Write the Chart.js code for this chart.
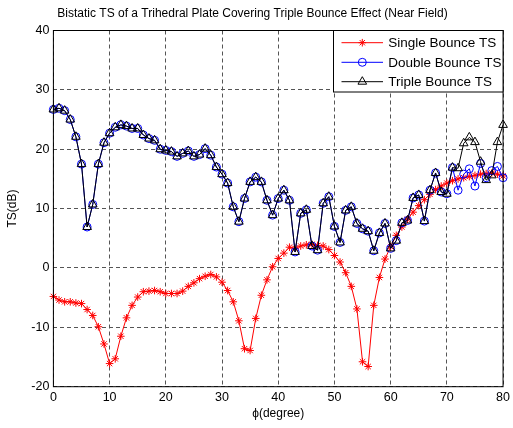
<!DOCTYPE html>
<html><head><meta charset="utf-8">
<script src="https://cdn.jsdelivr.net/npm/chart.js@4.4.1/dist/chart.umd.min.js"></script>
<style>html,body{margin:0;padding:0;background:#fff;}#wrap{width:513px;height:428px;}</style>
</head><body><div id="wrap"><canvas id="c" width="513" height="428"></canvas></div>
<script>
const angles = [0,1,2,3,4,5,6,7,8,9,10,11,12,13,14,15,16,17,18,19,20,21,22,23,24,25,26,27,28,29,30,31,32,33,34,35,36,37,38,39,40,41,42,43,44,45,46,47,48,49,50,51,52,53,54,55,56,57,58,59,60,61,62,63,64,65,66,67,68,69,70,71,72,73,74,75,76,77,78,79,80];
const singleTS = [-4.8,-5.4,-5.7,-5.7,-5.9,-6.0,-7.0,-8.0,-9.9,-12.8,-16.1,-15.3,-11.5,-8.4,-6.3,-4.9,-4.0,-3.9,-3.8,-4.0,-4.3,-4.3,-4.3,-3.9,-3.1,-2.5,-1.8,-1.4,-1.1,-1.5,-2.4,-3.8,-5.7,-8.9,-13.6,-13.9,-8.5,-4.6,-2.0,0.2,1.6,2.5,3.5,3.3,3.7,3.9,4.0,3.8,3.7,3.1,2.1,1.0,-0.8,-3.1,-6.9,-15.8,-16.6,-6.3,-1.6,1.5,3.6,5.5,6.9,8.2,9.4,10.5,11.5,12.4,13.2,13.8,14.3,14.7,15.0,15.2,15.4,15.6,15.8,15.9,16.0,15.8,15.5];
const doubleTS = [26.7,26.9,26.5,25.0,22.1,17.5,6.9,10.7,17.5,21.1,22.7,23.7,24.1,23.9,23.5,23.5,22.4,21.8,21.5,20.0,19.8,19.6,18.8,19.3,19.7,18.8,19.1,20.1,19.0,17.0,15.8,14.3,10.3,7.8,11.7,14.5,15.3,14.5,11.4,8.9,11.7,13.1,11.4,2.7,9.2,9.8,3.7,3.0,10.9,12.0,7.0,4.3,9.7,10.3,7.5,6.6,6.2,2.9,5.9,7.5,3.3,4.6,7.6,8.0,11.8,12.3,7.9,13.1,16.0,12.8,12.5,16.9,13.1,15.8,16.7,13.8,17.6,15.2,16.4,17.1,15.2];
const tripleTS = [26.7,26.9,26.5,25.0,22.1,17.5,6.9,10.7,17.5,21.1,22.7,23.7,24.1,23.9,23.5,23.5,22.4,21.8,21.5,20.0,19.8,19.6,18.8,19.3,19.7,18.8,19.1,20.1,19.0,17.0,15.8,14.3,10.3,7.8,11.7,14.5,15.3,14.5,11.4,8.9,11.7,13.1,11.4,2.7,9.2,9.8,3.7,3.0,10.9,12.0,7.0,4.3,9.7,10.3,7.5,6.6,6.2,2.9,5.9,7.5,3.3,4.6,7.6,8.0,11.8,12.3,7.9,13.1,16.0,12.8,12.5,16.9,16.8,21.0,22.0,21.2,17.9,14.8,15.6,21.2,24.1];
const xTicks = [0,10,20,30,40,50,60,70,80];
const yTicks = [-20,-10,0,10,20,30,40];
const seriesNames = ['Single Bounce TS','Double Bounce TS','Triple Bounce TS'];
const titleText = 'Bistatic TS of a Trihedral Plate Covering Triple Bounce Effect (Near Field)';
const xTitle = 'ϕ(degree)';
const yTitle = 'TS(dB)';

const FONT = '"Liberation Sans", Arial, Helvetica, sans-serif';
const toXY = arr => angles.map((a,i)=>({x:a,y:arr[i]}));

function drawMarker(ctx, style, x, y, color){
  ctx.save();
  ctx.strokeStyle = color; ctx.lineWidth = 1; ctx.setLineDash([]);
  ctx.beginPath();
  if(style==='star'){
    const r=3.8, d=r*Math.SQRT1_2;
    ctx.moveTo(x-r,y);ctx.lineTo(x+r,y);ctx.moveTo(x,y-r);ctx.lineTo(x,y+r);
    ctx.moveTo(x-d,y-d);ctx.lineTo(x+d,y+d);ctx.moveTo(x-d,y+d);ctx.lineTo(x+d,y-d);
  } else if(style==='circle'){
    ctx.arc(x,y,4,0,Math.PI*2);
  } else {
    const r=5;
    for(let k=0;k<3;k++){const a=k*2*Math.PI/3; const px=x+Math.sin(a)*r, py=y-Math.cos(a)*r; if(k===0)ctx.moveTo(px,py); else ctx.lineTo(px,py);}
    ctx.closePath();
  }
  ctx.stroke();
  ctx.restore();
}

const deco = {
  id:'deco',
  beforeDraw(chart){
    const ctx=chart.ctx; ctx.save(); ctx.fillStyle='#fff'; ctx.fillRect(0,0,chart.width,chart.height); ctx.restore();
  },
  afterDraw(chart){
    const ctx=chart.ctx, a=chart.chartArea;
    ctx.save();
    ctx.setLineDash([]);
    ctx.strokeStyle='#000'; ctx.lineWidth=1;
    ctx.strokeRect(a.left, a.top, a.right-a.left, a.bottom-a.top);
    // title
    ctx.fillStyle='#000'; ctx.font='12px '+FONT; ctx.textAlign='center'; ctx.textBaseline='middle';
    ctx.fillText(titleText, 252.5, 14);
    // legend
    const lx=333.5, ly=a.top, lw=a.right-333.5, lh=61.5;
    ctx.fillStyle='#fff'; ctx.fillRect(lx,ly,lw,lh);
    ctx.strokeStyle='#000'; ctx.strokeRect(lx,ly,lw,lh);
    const rows=[42.7,62.3,81.7], cols=['#ff0000','#0000ff','#000000'], styles=['star','circle','triangle'];
    ctx.font='13.5px '+FONT; ctx.textAlign='left'; ctx.textBaseline='middle';
    for(let i=0;i<3;i++){
      ctx.strokeStyle=cols[i]; ctx.lineWidth=1; ctx.beginPath(); ctx.moveTo(341.5,rows[i]); ctx.lineTo(383,rows[i]); ctx.stroke();
      drawMarker(ctx, styles[i], 362.3, rows[i], cols[i]);
      ctx.fillStyle='#000'; ctx.fillText(seriesNames[i], 388.3, rows[i]+0.5);
    }
    ctx.restore();
  }
};

new Chart(document.getElementById('c'), {
  type:'line',
  data:{datasets:[
    {label:seriesNames[0], data:toXY(singleTS), borderColor:'#ff0000', borderWidth:1, pointStyle:'star', pointRadius:3.8, pointBorderColor:'#ff0000', pointBorderWidth:1, pointBackgroundColor:'rgba(0,0,0,0)', tension:0, order:3, clip:false},
    {label:seriesNames[1], data:toXY(doubleTS), borderColor:'#0000ff', borderWidth:1, pointStyle:'circle', pointRadius:4, pointBorderColor:'#0000ff', pointBorderWidth:1, pointBackgroundColor:'rgba(0,0,0,0)', tension:0, order:2, clip:false},
    {label:seriesNames[2], data:toXY(tripleTS), borderColor:'#000000', borderWidth:1, pointStyle:'triangle', pointRadius:5, pointBorderColor:'#000000', pointBorderWidth:1, pointBackgroundColor:'rgba(0,0,0,0)', tension:0, order:1, clip:false}
  ]},
  options:{
    responsive:false, animation:false, devicePixelRatio:1,
    layout:{padding:{left:0,top:30.5,right:6.5,bottom:0}},
    plugins:{legend:{display:false}, tooltip:{enabled:false}, title:{display:false}},
    scales:{
      x:{type:'linear', min:0, max:80,
        afterBuildTicks(s){ s.ticks = xTicks.map(v=>({value:v})); },
        afterFit(s){ s.height = 41.3; },
        ticks:{font:{family:FONT,size:12.5}, color:'#000', padding:3, maxRotation:0},
        grid:{color:'#555', lineWidth:1, drawTicks:false},
        border:{display:false, dash:[4,3]},
        title:{display:true, text:xTitle, font:{family:FONT,size:12}, color:'#000', padding:{top:0,bottom:6.8}}
      },
      y:{type:'linear', min:-20, max:40,
        afterBuildTicks(s){ s.ticks = yTicks.map(v=>({value:v})); },
        afterFit(s){ s.width = 53.4; },
        ticks:{font:{family:FONT,size:12.5}, color:'#000', padding:4},
        grid:{color:'#555', lineWidth:1, drawTicks:false},
        border:{display:false, dash:[4,3]},
        title:{display:true, text:yTitle, font:{family:FONT,size:12}, color:'#000', padding:{top:5.8,bottom:0}}
      }
    }
  },
  plugins:[deco]
});
</script></body></html>
